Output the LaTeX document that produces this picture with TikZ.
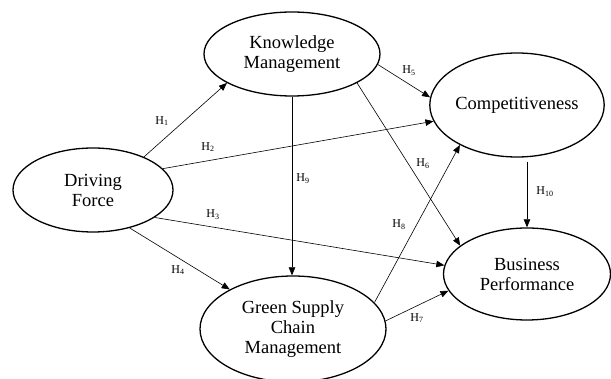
\documentclass[tikz,border=0pt]{standalone}
\usepackage{fontspec}
\setmainfont{Liberation Serif}
\usetikzlibrary{shapes.geometric,arrows.meta}
\begin{document}
\begin{tikzpicture}[x=1pt,y=-1pt,
  construct/.style={draw, line width=1.3pt, ellipse, inner sep=0pt, align=center,
    font=\fontsize{18.5}{20}\selectfont},
  hyp/.style={line width=0.6pt, -{Triangle[length=8pt,width=6.5pt]}},
  hlab/.style={font=\fontsize{12}{12}\selectfont, inner sep=0pt}]
\useasboundingbox (0,0) rectangle (611,379);
\fill[white] (0,0) rectangle (611,379);
% constructs
\node[construct, minimum width=176pt, minimum height=84pt] (km) at (292,54) {Knowledge\\Management};
\node[construct, minimum width=170pt, minimum height=104pt] (comp) at (517,105) {Competitiveness};
\node[construct, minimum width=160pt, minimum height=84pt] (df) at (93,190) {Driving\\Force};
\node[construct, minimum width=186pt, minimum height=106pt] (gscm) at (293,329) {Green Supply\\Chain\\Management};
\node[construct, minimum width=167pt, minimum height=92pt] (bp) at (527,274) {Business\\Performance};
% hypotheses
\draw[hyp] (df.33) -- (km.204);
\draw[hyp] (df.17) -- (comp.191);
\draw[hyp] (df.336) -- (bp.174);
\draw[hyp] (df.314) -- (gscm.148);
\draw[hyp] (km.353) -- (comp.175);
\draw[hyp] (km.336) -- (bp.157);
\draw[hyp] (gscm.5) -- (bp.192);
\draw[hyp] (gscm.18) -- (comp.215);
\draw[hyp] (km.south) -- (km.south |- gscm.north);
\draw[hyp] ([yshift=-4pt]comp.south -| bp.north) -- (bp.north);
% labels
\node[hlab] (l1) at (162,121) {H\textsubscript{1}};
\node[hlab] (l2) at (208,147) {H\textsubscript{2}};
\node[hlab] (l3) at (213,215) {H\textsubscript{3}};
\node[hlab] (l4) at (178,270) {H\textsubscript{4}};
\node[hlab] (l5) at (409,71) {H\textsubscript{5}};
\node[hlab] (l6) at (423,164) {H\textsubscript{6}};
\node[hlab] (l7) at (417,318) {H\textsubscript{7}};
\node[hlab] (l8) at (399,225) {H\textsubscript{8}};
\node[hlab] (l9) at (303,179) {H\textsubscript{9}};
\node[hlab] (l10) at (545,192) {H\textsubscript{10}};
\end{tikzpicture}
\end{document}
